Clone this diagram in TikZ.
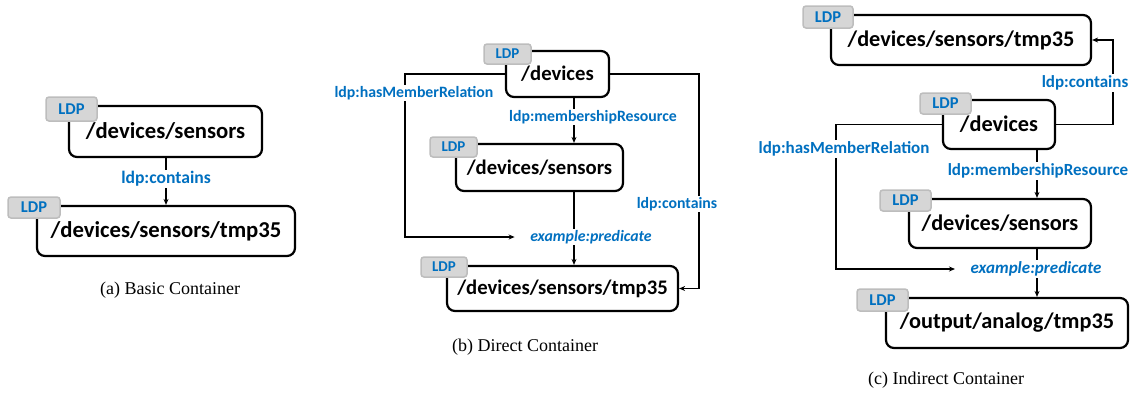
\documentclass[tikz,border=0pt]{standalone}
\usepackage{fontspec}
\setmainfont{Liberation Serif}
\newfontfamily\carl{Carlito}
\usetikzlibrary{arrows.meta}
\definecolor{ldpblue}{HTML}{0070C0}
\definecolor{taggray}{HTML}{D6D6D6}
\definecolor{tagedge}{HTML}{BDBDBD}
\begin{document}
\begin{tikzpicture}[x=1pt,y=-1pt,
  box/.style={draw=black,line width=2.2pt,rounded corners=8pt,fill=white,inner sep=0pt,font=\carl\bfseries\fontsize{#1}{#1}\selectfont},
  tag/.style={draw=tagedge,line width=1.5pt,fill=taggray,rounded corners=3pt,inner sep=0pt,text=ldpblue,font=\carl\bfseries\fontsize{#1}{#1}\selectfont},
  lbl/.style={fill=white,inner sep=1.5pt,text=ldpblue,font=\carl\bfseries\fontsize{#1}{#1}\selectfont},
  ilbl/.style={fill=white,inner sep=1.5pt,text=ldpblue,font=\carl\bfseries\itshape\fontsize{#1}{#1}\selectfont},
  arr/.style={line width=1.6pt,-{Stealth[length=6pt,width=5pt]}},
  captext/.style={font=\fontsize{18}{18}\selectfont,inner sep=0pt}]
\useasboundingbox (0,0) rectangle (1138,397);

% ---------- (a) ----------
\node[box=22.7,minimum width=193,minimum height=51] (asens) at (165.5,131.5) {/devices/sensors};
\node[tag=16.5,minimum width=51,minimum height=24] (atag1) at (71.5,109) {LDP};
\node[box=22.7,minimum width=258,minimum height=50] (atmp) at (166,231) {/devices/sensors/tmp35};
\node[tag=16.5,minimum width=52,minimum height=21] (atag2) at (34,207.5) {LDP};
\coordinate (ax) at (166,0);
\draw[arr] (asens.south -| ax) -- (atmp.north -| ax);
\node[lbl=17.6] (acont) at (166,179) {ldp:contains};
\node[captext] (acap) at (170,290) {(a) Basic Container};

% ---------- (b) ----------
\node[box=20.7,minimum width=103,minimum height=46] (bdev) at (557.5,74) {/devices};
\node[tag=15,minimum width=47,minimum height=20] (btag1) at (507.5,54) {LDP};
\node[box=20.7,minimum width=167,minimum height=47] (bsens) at (539.5,167.5) {/devices/sensors};
\node[tag=15,minimum width=47,minimum height=20] (btag2) at (453.5,147) {LDP};
\node[box=20.7,minimum width=231,minimum height=45] (btmp) at (562.5,288.5) {/devices/sensors/tmp35};
\node[tag=15,minimum width=46,minimum height=20] (btag3) at (444,267) {LDP};
\coordinate (bx) at (574,0);
\coordinate (bl) at (405,0);
\coordinate (br) at (699,0);
\draw[arr] (bdev.south -| bx) -- (bsens.north -| bx);
\draw[arr] (bsens.south -| bx) -- (btmp.north -| bx);
\node[lbl=15.8] (bmem) at (593,117) {ldp:membershipResource};
\node[ilbl=15.8] (bpred) at (591,237) {example:predicate};
\draw[arr,shorten >=14pt] (bdev.west) -| (bl |- bpred) -- (bpred.west);
\node[lbl=15.8] (bhas) at (414,93) {ldp:hasMemberRelation};
\draw[arr] (bdev.east) -| (br |- btmp) -- (btmp.east);
\node[lbl=15.8] (bcont) at (677,204) {ldp:contains};
\node[captext] (bcap) at (525,347) {(b) Direct Container};

% ---------- (c) ----------
\node[box=22.3,minimum width=260,minimum height=50] (ctmp) at (961,40) {/devices/sensors/tmp35};
\node[tag=16.5,minimum width=50,minimum height=22] (ctag1) at (828,17) {LDP};
\node[box=22.3,minimum width=112,minimum height=49] (cdev) at (999,124.5) {/devices};
\node[tag=16.5,minimum width=51,minimum height=21] (ctag2) at (945.5,103.5) {LDP};
\node[box=22.3,minimum width=182,minimum height=49] (csens) at (1000,223.5) {/devices/sensors};
\node[tag=16.5,minimum width=51,minimum height=21] (ctag3) at (905.5,200.5) {LDP};
\node[box=22.3,minimum width=242,minimum height=50] (cout) at (1007,323) {/output/analog/tmp35};
\node[tag=16.5,minimum width=51,minimum height=22] (ctag4) at (882.5,300) {LDP};
\coordinate (cx) at (1037,0);
\coordinate (cl) at (836,0);
\coordinate (cr) at (1113,0);
\draw[arr] (cdev.south -| cx) -- (csens.north -| cx);
\draw[arr] (csens.south -| cx) -- (cout.north -| cx);
\node[lbl=17] (cmem) at (1038,171) {ldp:membershipResource};
\node[ilbl=17] (cpred) at (1036,269) {example:predicate};
\draw[arr,shorten >=14pt] (cdev.west) -| (cl |- cpred) -- (cpred.west);
\node[lbl=17] (chas) at (844,149) {ldp:hasMemberRelation};
\draw[arr] (cdev.east) -| (cr |- ctmp) -- (ctmp.east);
\node[lbl=17] (ccont) at (1085,83) {ldp:contains};
\node[captext] (ccap) at (946,380) {(c) Indirect Container};
\end{tikzpicture}
\end{document}
